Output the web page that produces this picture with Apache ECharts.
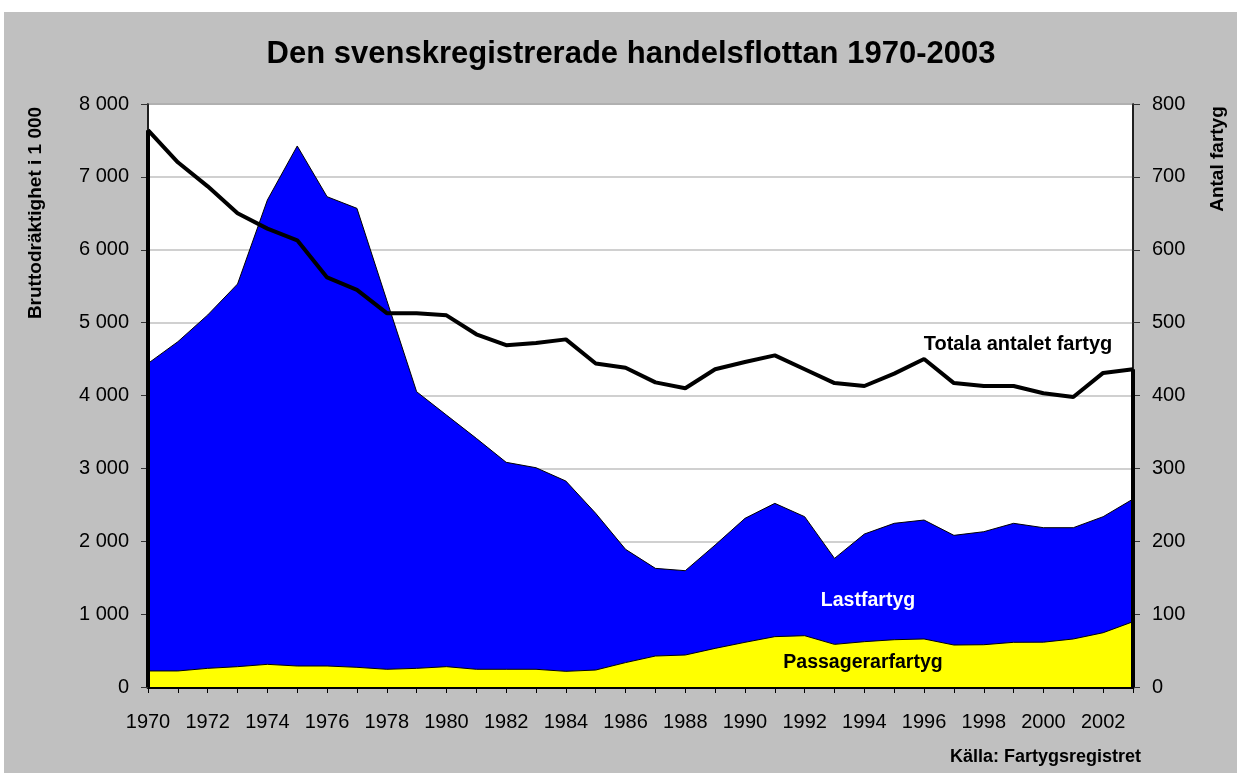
<!DOCTYPE html>
<html>
<head>
<meta charset="utf-8">
<script src="https://cdn.jsdelivr.net/npm/echarts@6/dist/echarts.min.js"></script>
<style>
  html, body { margin: 0; padding: 0; background: #fff; }
  #chart { width: 1237px; height: 773px; }
</style>
</head>
<body>
<div id="chart"></div>
<script>
// år 1970-2003
const years = ['1970', '1971', '1972', '1973', '1974', '1975', '1976', '1977', '1978', '1979',
  '1980', '1981', '1982', '1983', '1984', '1985', '1986', '1987', '1988', '1989',
  '1990', '1991', '1992', '1993', '1994', '1995', '1996', '1997', '1998', '1999',
  '2000', '2001', '2002', '2003']

// bruttodräktighet i 1 000, staplade ytor
const passagerarfartyg = [220, 220, 256, 279, 311, 288, 288, 270, 243, 256,
  279, 243, 243, 243, 215, 233, 335, 425, 439, 530,
  613, 691, 704, 585, 622, 649, 659, 576, 580, 613,
  615, 659, 745, 896]
const lastfartyg = [4220, 4518, 4849, 5251, 6372, 7136, 6440, 6298, 5063, 3796,
  3452, 3169, 2840, 2766, 2611, 2150, 1554, 1203, 1157, 1418,
  1701, 1829, 1633, 1180, 1477, 1597, 1632, 1505, 1551, 1633,
  1571, 1527, 1592, 1683]

// antal fartyg (höger axel)
const antalFartyg = [764, 720, 687, 650, 629, 613, 562, 545, 513, 513,
  510, 484, 469, 472, 477, 444, 438, 418, 410, 436,
  446, 455, 436, 417, 413, 430, 450, 417, 413, 413,
  403, 398, 431, 436]

const FONT = '"Liberation Sans", Arial, sans-serif'

const myChart = echarts.init(document.querySelector('#chart'))

const space = v => String(v).replace(/\B(?=(\d{3})+(?!\d))/g, ' ')
const last = years.length - 1

let option = {
  backgroundColor: '#fff',
  animation: false,
  title: {
    text: 'Den svenskregistrerade handelsflottan 1970-2003',
    left: 626,
    top: 34,
    textAlign: 'center',
    textStyle: {
      fontFamily: FONT,
      fontSize: 31,
      fontWeight: 'bold',
      color: '#000'
    }
  },
  graphic: [
    {
      type: 'rect',
      z: -10,
      shape: { x: 4, y: 12, width: 1233, height: 761 },
      style: { fill: '#C0C0C0' }
    },
    {
      type: 'text',
      x: 36, y: 213,
      rotation: Math.PI / 2,
      style: {
        text: 'Bruttodräktighet i 1 000',
        font: 'bold 19px ' + FONT,
        fill: '#000',
        align: 'center',
        verticalAlign: 'middle'
      }
    },
    {
      type: 'text',
      x: 1218, y: 159,
      rotation: Math.PI / 2,
      style: {
        text: 'Antal fartyg',
        font: 'bold 19px ' + FONT,
        fill: '#000',
        align: 'center',
        verticalAlign: 'middle'
      }
    },
    {
      type: 'text',
      x: 1018, y: 344,
      z: 100,
      style: {
        text: 'Totala antalet fartyg',
        font: 'bold 20px ' + FONT,
        fill: '#000',
        align: 'center',
        verticalAlign: 'middle'
      }
    },
    {
      type: 'text',
      x: 868, y: 601,
      z: 100,
      style: {
        text: 'Lastfartyg',
        font: 'bold 19.5px ' + FONT,
        fill: '#fff',
        align: 'center',
        verticalAlign: 'middle'
      }
    },
    {
      type: 'text',
      x: 863, y: 663,
      z: 100,
      style: {
        text: 'Passagerarfartyg',
        font: 'bold 19.5px ' + FONT,
        fill: '#000',
        align: 'center',
        verticalAlign: 'middle'
      }
    },
    {
      type: 'text',
      x: 1141, y: 757,
      style: {
        text: 'Källa: Fartygsregistret',
        font: 'bold 18px ' + FONT,
        fill: '#000',
        align: 'right',
        verticalAlign: 'middle'
      }
    }
  ],
  grid: {
    left: 148,
    right: 104,
    top: 104,
    bottom: 86,
    show: true,
    backgroundColor: '#fff',
    borderColor: '#808080',
    borderWidth: 2
  },
  xAxis: [
    {
      type: 'category',
      boundaryGap: false,
      data: years,
      axisLine: {
        onZero: false,
        lineStyle: { color: '#000', width: 3 }
      },
      axisTick: {
        interval: 0,
        length: 6,
        lineStyle: { color: '#000', width: 1 }
      },
      axisLabel: {
        interval: 1,
        margin: 25,
        color: '#000',
        fontFamily: FONT,
        fontSize: 20
      }
    },
    {
      // längre streck vid varannan etikett
      type: 'category',
      boundaryGap: false,
      position: 'bottom',
      offset: 0,
      data: years,
      axisLine: { show: false, onZero: false },
      axisTick: {
        interval: 1,
        inside: true,
        length: 8,
        lineStyle: { color: '#000', width: 1 }
      },
      axisLabel: { show: false }
    }
  ],
  yAxis: [
    {
      type: 'value',
      min: 0,
      max: 8000,
      interval: 1000,
      axisLine: {
        show: true,
        lineStyle: { color: '#000', width: 1.5 }
      },
      axisTick: {
        show: true,
        length: 7,
        lineStyle: { color: '#333', width: 1 }
      },
      axisLabel: {
        margin: 19,
        color: '#000',
        fontFamily: FONT,
        fontSize: 20,
        formatter: space
      },
      splitLine: {
        show: true,
        lineStyle: { color: '#C0C0C0', width: 1.5 }
      }
    },
    {
      type: 'value',
      min: 0,
      max: 800,
      interval: 100,
      position: 'right',
      axisLine: {
        show: true,
        lineStyle: { color: '#000', width: 1.5 }
      },
      axisTick: {
        show: true,
        length: 7,
        lineStyle: { color: '#333', width: 1 }
      },
      axisLabel: {
        margin: 19,
        color: '#000',
        fontFamily: FONT,
        fontSize: 20
      },
      splitLine: { show: false }
    }
  ],
  series: [
    {
      name: 'Passagerarfartyg',
      type: 'line',
      stack: 'brt',
      showSymbol: false,
      symbol: 'none',
      lineStyle: { color: '#000', width: 1 },
      areaStyle: { color: '#FFFF00', opacity: 1 },
      data: passagerarfartyg
    },
    {
      name: 'Lastfartyg',
      type: 'line',
      stack: 'brt',
      showSymbol: false,
      symbol: 'none',
      lineStyle: { color: '#000', width: 1 },
      areaStyle: { color: '#0000FF', opacity: 1 },
      data: lastfartyg
    },
    {
      name: 'Totala antalet fartyg',
      type: 'line',
      yAxisIndex: 1,
      showSymbol: false,
      symbol: 'none',
      z: 5,
      lineStyle: { color: '#000', width: 4 },
      data: antalFartyg,
      markLine: {
        silent: true,
        symbol: 'none',
        label: { show: false },
        lineStyle: { color: '#000', width: 4, type: 'solid' },
        data: [
          [{ xAxis: years[0], yAxis: 0 }, { xAxis: years[0], yAxis: antalFartyg[0] }],
          [{ xAxis: years[last], yAxis: 0 }, { xAxis: years[last], yAxis: antalFartyg[last] }]
        ]
      }
    }
  ]
}

myChart.setOption(option)
</script>
</body>
</html>
